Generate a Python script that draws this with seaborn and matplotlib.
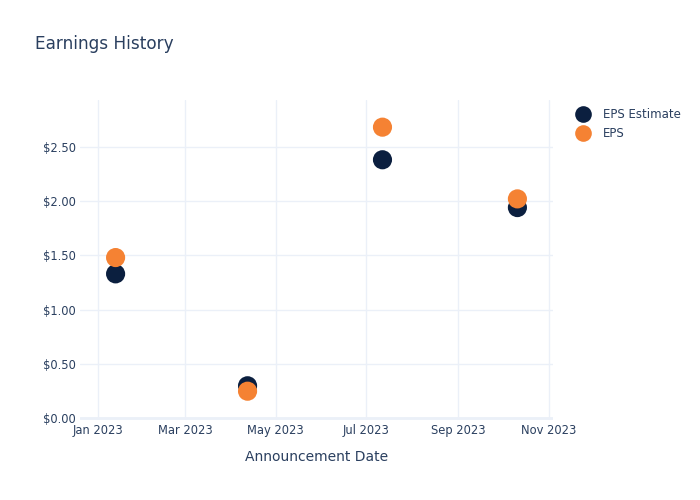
import matplotlib
matplotlib.use("Agg")
import matplotlib.pyplot as plt
import matplotlib.dates as mdates
import matplotlib.ticker as mticker
import seaborn as sns
import pandas as pd

dates = ["2023-01-13", "2023-04-12", "2023-07-12", "2023-10-11"]
eps_estimate = [1.33, 0.30, 2.38, 1.94]
eps_actual = [1.48, 0.25, 2.68, 2.02]
series_names = ["EPS Estimate", "EPS"]
colors = ["#0b1f3f", "#f58233"]

df = pd.DataFrame({
    "date": pd.to_datetime(dates * 2),
    "value": eps_estimate + eps_actual,
    "series": [series_names[0]] * len(dates) + [series_names[1]] * len(dates),
})

sns.set_style("white")
plt.rcParams["font.family"] = ["DejaVu Sans"]
text_color = "#2a3f5f"
grid_color = "#ebf0f8"

fig = plt.figure(figsize=(7, 5), dpi=100)
ax = fig.add_axes([80 / 700, 1 - 420 / 500, (553 - 80) / 700, (420 - 100) / 500])

sns.scatterplot(data=df, x="date", y="value", hue="series", palette=colors,
                s=190, edgecolor="none", linewidth=0, ax=ax, zorder=3, legend=True)

ax.set_xlim(pd.Timestamp("2022-12-20"), pd.Timestamp("2023-11-04"))
ax.set_ylim(-0.015, 2.93)
ax.xaxis.set_major_locator(mdates.MonthLocator(bymonth=[1, 3, 5, 7, 9, 11]))
ax.xaxis.set_major_formatter(mdates.DateFormatter("%b %Y"))
ax.yaxis.set_major_locator(mticker.MultipleLocator(0.5))
ax.yaxis.set_major_formatter(mticker.FuncFormatter(lambda v, p: f"${v:.2f}"))

ax.grid(True, color=grid_color, linewidth=1)
ax.axhline(0, color=grid_color, linewidth=2, zorder=1)
for s in ax.spines.values():
    s.set_visible(False)
ax.tick_params(axis="both", length=0, labelsize=8.3, labelcolor=text_color, pad=3)
ax.set_ylabel("")
ax.set_xlabel("Announcement Date", fontsize=10, color=text_color, labelpad=9)

handles, labels = ax.get_legend_handles_labels()
ax.legend_.remove()
for h in handles:
    if hasattr(h, "set_markersize"):
        h.set_markersize(12)
leg = fig.legend(handles, labels, loc="upper left", bbox_to_anchor=(574 / 700, 1 - 108 / 500),
                 frameon=False, fontsize=8.5, labelcolor=text_color,
                 handletextpad=0.95, labelspacing=0.55, borderaxespad=0, borderpad=0,
                 handlelength=1.5)

fig.text(35 / 700, 1 - 44 / 500, "Earnings History", fontsize=12.2, color=text_color,
         ha="left", va="center")

fig.savefig("out.png", dpi=100, facecolor="white")
